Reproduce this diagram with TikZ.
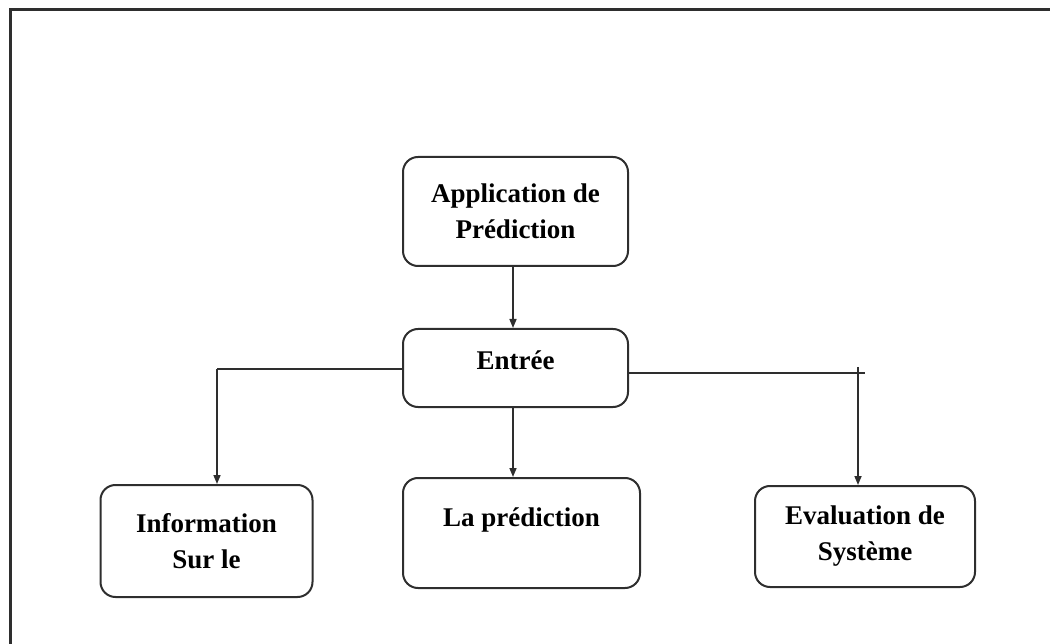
\documentclass[tikz,border=0pt]{standalone}
\usepackage{fontspec}
\setmainfont{Liberation Serif}
\usetikzlibrary{arrows.meta}
\definecolor{ink}{HTML}{2E2E2E}
\tikzset{
  box/.style={draw=ink, line width=2pt, rounded corners=15pt, align=center,
    font=\bfseries\fontsize{27}{36}\selectfont, inner sep=0pt},
  link/.style={draw=ink, line width=1.6pt},
  arrow/.style={link, -{Triangle[length=9pt,width=7pt]}}
}
\begin{document}
\begin{tikzpicture}[x=1pt,y=-1pt]
  \useasboundingbox (0,0) rectangle (1050,644);
  \clip (0,0) rectangle (1050,644);
  % outer frame (runs past the right and bottom edges)
  \draw[ink, line width=2.6pt] (1062,9.5) -- (10.5,9.5) -- (10.5,656);

  % boxes
  \node[box, minimum width=225pt, minimum height=109pt] (app) at (515.5,211.5)
    {Application de\\Prédiction};
  \node[box, minimum width=225pt, minimum height=78pt, text height=18pt, text depth=14pt]
    (entree) at (515.5,368) {Entrée};
  \node[box, minimum width=212pt, minimum height=112pt] (info) at (206.5,541)
    {Information\\Sur le};
  \node[box, minimum width=237pt, minimum height=110pt, text height=18pt, text depth=32pt]
    (pred) at (521.5,533) {La prédiction};
  \node[box, minimum width=220pt, minimum height=101pt] (eval) at (865,536.5)
    {Evaluation de\\Système};

  % branch points
  \coordinate (lbend) at (217,369);
  \coordinate (rbend) at (858,367);
  \coordinate (rtip) at (865,373);
  \coordinate (midx) at (513,0);

  % connectors
  \draw[arrow] (app.south -| midx) -- (entree.north -| midx);
  \draw[arrow] (entree.south -| midx) -- (pred.north -| midx);
  \draw[link] (entree.west |- lbend) -- (lbend);
  \draw[arrow] (lbend) -- (lbend |- info.north);
  \draw[link] (entree.east |- rtip) -- (rtip);
  \draw[arrow] (rbend) -- (rbend |- eval.north);
\end{tikzpicture}
\end{document}
